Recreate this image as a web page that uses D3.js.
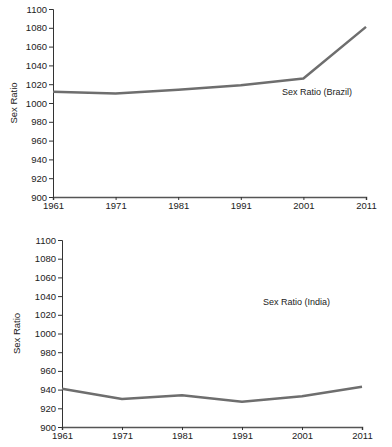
<!DOCTYPE html>
<html>
<head>
<meta charset="utf-8">
<script src="https://cdn.jsdelivr.net/npm/d3@7"></script>
<style>
  body { margin: 0; background: #fff; }
  svg text { font-family: "Liberation Sans", Arial, sans-serif; fill: #222; }
</style>
</head>
<body>
<div id="chart"></div>
<script>
// Census years and sex ratios (females per 1000 males)
const years = [1961, 1971, 1981, 1991, 2001, 2011];
const brazil = [1012, 1010, 1014, 1019, 1026, 1081];
const india = [941, 930, 934, 927, 933, 943];
const yTicks = [900, 920, 940, 960, 980, 1000, 1020, 1040, 1060, 1080, 1100];

const svg = d3.select("#chart")
    .append("svg")
    .attr("width", 392)
    .attr("height", 447);

// one panel per country
const panels = [
    { values: brazil, label: "Sex Ratio (Brazil)", x0: 53, x1: 366, y0: 197, y1: 9, lx: 282, ly: 95, tx: 14 },
    { values: india, label: "Sex Ratio (India)", x0: 62, x1: 362, y0: 427, y1: 240, lx: 263, ly: 305, tx: 17 }
];

panels.forEach(p => {
    const x = d3.scaleLinear().domain([1961, 2011]).range([p.x0, p.x1]);
    const y = d3.scaleLinear().domain([900, 1100]).range([p.y0, p.y1]);

    const g = svg.append("g");

    // y axis
    const ya = g.append("g")
        .attr("transform", `translate(${p.x0},0)`)
        .call(d3.axisLeft(y).tickValues(yTicks).tickFormat(d3.format("d")).tickSize(4).tickPadding(2));
    ya.selectAll("text").style("font-size", "9.5px");

    // x axis
    const xa = g.append("g")
        .attr("transform", `translate(0,${p.y0})`)
        .call(d3.axisBottom(x).tickValues(years).tickFormat(d3.format("d")).tickSize(3).tickPadding(2));
    xa.selectAll("text").style("font-size", "9.5px");

    g.selectAll(".domain, .tick line").attr("stroke", "#333");
    xa.select(".domain").attr("stroke", "#555").attr("stroke-width", 1.5);

    // axis title
    g.append("text")
        .attr("transform", `translate(${p.tx},${(p.y0 + p.y1) / 2}) rotate(-90)`)
        .attr("text-anchor", "middle")
        .attr("dy", "0.35em")
        .style("font-size", "9.5px")
        .text("Sex Ratio");

    // the series line
    const line = d3.line()
        .x((d, i) => x(years[i]))
        .y(d => y(d));

    g.append("path")
        .datum(p.values)
        .attr("fill", "none")
        .attr("stroke", "#6e6e6e")
        .attr("stroke-width", 2.5)
        .attr("stroke-linejoin", "round")
        .attr("d", line);

    g.append("text")
        .attr("x", p.lx)
        .attr("y", p.ly)
        .style("font-size", "9px")
        .text(p.label);
});
</script>
</body>
</html>
